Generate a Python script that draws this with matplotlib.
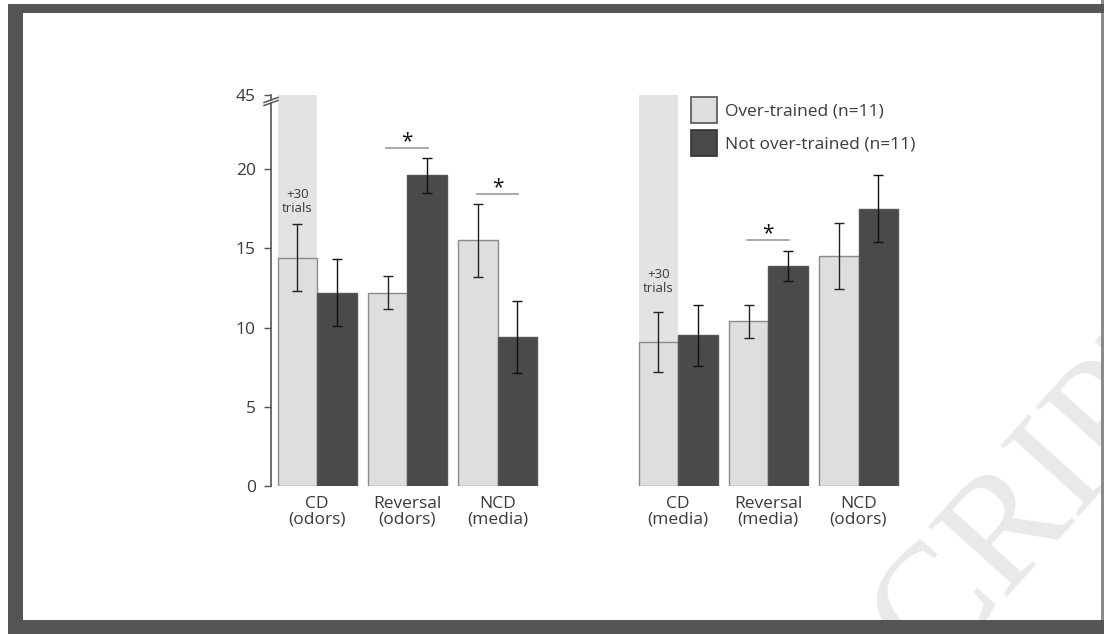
import matplotlib
matplotlib.use("Agg")
import matplotlib.pyplot as plt
from matplotlib.patches import Rectangle, Patch
import numpy as np

# ---------------- data ----------------
cats_left = ["CD\n(odors)", "Reversal\n(odors)", "NCD\n(media)"]
cats_right = ["CD\n(media)", "Reversal\n(media)", "NCD\n(odors)"]
over_trained = [14.4, 12.2, 15.5, 9.1, 10.4, 14.5]
over_err = [2.1, 1.05, 2.3, 1.9, 1.05, 2.1]
not_over = [12.2, 19.6, 9.4, 9.5, 13.9, 17.5]
not_err = [2.1, 1.1, 2.25, 1.95, 0.95, 2.1]
extra_total = 45          # "+30 trials" background bars reach 45
extra_idx = [0, 3]        # CD groups
sig_idx = [1, 2, 4]       # groups marked with *
y_ticks = [0, 5, 10, 15, 20, 45]
legend_labels = ["Over-trained (n=11)", "Not over-trained (n=11)"]

# ---------------- style ----------------
W, H = 1104, 634
FONT = "Open Sans"
plt.rcParams["font.family"] = [FONT, "DejaVu Sans"]
LIGHT = "#dedede"
DARK = "#4a4a4a"
TXT = "#3a3a3a"

def brk(v):
    # broken axis: linear to 20, compressed above
    return v if v <= 20 else 20 + (v - 20) * (4.67 / 25.0)

fig = plt.figure(figsize=(W / 100, H / 100), dpi=100)
fig.patch.set_facecolor("white")

def fx(px):
    return px / W

def fy(py):
    return 1 - py / H

# watermark (partially visible, as in the source)
fig.text(fx(930), fy(675), "CRIPT", fontsize=116, family="Liberation Serif",
         color="#e9e9e9", rotation=48, rotation_mode="anchor",
         ha="left", va="baseline", zorder=0)

ax_l, ax_r, ax_b, ax_t = 271, 960, 486, 90
ax = fig.add_axes([fx(ax_l), fy(ax_b), fx(ax_r) - fx(ax_l), fy(ax_t) - fy(ax_b)])
ax.patch.set_alpha(0)
unit = 90.25
ax.set_xlim((ax_l - 317) / unit, (ax_r - 317) / unit)
ax.set_ylim(0, (ax_b - ax_t) / 15.85)

pos = np.array([0, 1, 2, 4, 5, 6], dtype=float)
w = 39.5 / unit

# background tall bars
for i in extra_idx:
    ax.bar(pos[i] - w / 2, brk(extra_total), width=w, color="#e3e3e3",
           edgecolor="none", zorder=1)

ax.bar(pos - w / 2, over_trained, width=w, color=LIGHT, edgecolor="#8a8a8a",
       linewidth=1, zorder=2)
ax.bar(pos + w / 2, not_over, width=w, color=DARK, edgecolor="#555555",
       linewidth=1, zorder=2)
ax.errorbar(pos - w / 2, over_trained, yerr=over_err, fmt="none", ecolor="#222222",
            elinewidth=1, capsize=3.5, capthick=1, zorder=3)
ax.errorbar(pos + w / 2, not_over, yerr=not_err, fmt="none", ecolor="#111111",
            elinewidth=1, capsize=3.5, capthick=1, zorder=3)

# +30 trials labels
for i in extra_idx:
    ytxt = max(over_trained[i] + over_err[i], not_over[i] + not_err[i]) + 1.45
    ax.text(pos[i] - w / 2, ytxt, "+30\ntrials", ha="center", va="center",
            fontsize=9.5, color=TXT, linespacing=1.15, zorder=4)

# significance markers
for i in sig_idx:
    top = max(over_trained[i] + over_err[i], not_over[i] + not_err[i])
    yl = top + 0.65
    ax.plot([pos[i] - 0.23, pos[i] + 0.23], [yl, yl], color="#9a9a9a", lw=1.2,
            zorder=4)
    ax.text(pos[i], yl + 0.05, "*", ha="center", va="baseline", fontsize=15,
            color="#111111", zorder=4)

# axes styling
for s in ax.spines.values():
    s.set_visible(False)
ytpos = [brk(v) for v in y_ticks]
ax.set_yticks(ytpos)
ax.set_yticklabels([str(v) for v in y_ticks], fontsize=12.5, color=TXT)
ax.tick_params(axis="y", length=5, width=1, color="#555555", pad=6)
ax.set_xticks(pos)
ax.set_xticklabels(cats_left + cats_right, fontsize=12.5, color=TXT, linespacing=1.0)
ax.tick_params(axis="x", length=0, pad=7)

# broken y axis line
x0 = ax.get_xlim()[0]
yb_low = (ax_b - 103) / 15.85
yb_high = (ax_b - 100) / 15.85
ax.plot([x0, x0], [0, yb_low], color="#555555", lw=1.2, clip_on=False, zorder=5)
ax.plot([x0, x0], [yb_high, brk(45)], color="#555555", lw=1.2, clip_on=False, zorder=5)
dx = 7 / unit
dy = 2.5 / 15.85
for yy in (yb_low, yb_high):
    ax.plot([x0 - dx, x0 + dx], [yy - dy, yy + dy], color="#555555", lw=1.1,
            clip_on=False, zorder=5)

# legend
handles = [Patch(facecolor=LIGHT, edgecolor="#555555", linewidth=1.2),
           Patch(facecolor=DARK, edgecolor="#333333", linewidth=1.2)]
leg = fig.legend(handles, legend_labels, loc="upper left",
                 bbox_to_anchor=(fx(691), fy(97)), bbox_transform=fig.transFigure,
                 frameon=False, fontsize=12.5, handlelength=1.5, handleheight=1.95,
                 handletextpad=0.45, labelspacing=0.38, borderpad=0, borderaxespad=0)
for t in leg.get_texts():
    t.set_color(TXT)

# frame
FR = "#555555"
fig.patches.append(Rectangle((fx(8), 0), fx(15), fy(4), transform=fig.transFigure,
                             facecolor=FR, edgecolor="none", zorder=10))
fig.patches.append(Rectangle((fx(8), fy(13)), 1, 9 / H, transform=fig.transFigure,
                             facecolor=FR, edgecolor="none", zorder=10))
fig.patches.append(Rectangle((fx(8), 0), 1, 14 / H, transform=fig.transFigure,
                             facecolor=FR, edgecolor="none", zorder=10))
fig.patches.append(Rectangle((fx(1101), 0), 3 / W, 1, transform=fig.transFigure,
                             facecolor="#8a8a8a", edgecolor="none", zorder=9))

fig.savefig("out.png", dpi=100)
